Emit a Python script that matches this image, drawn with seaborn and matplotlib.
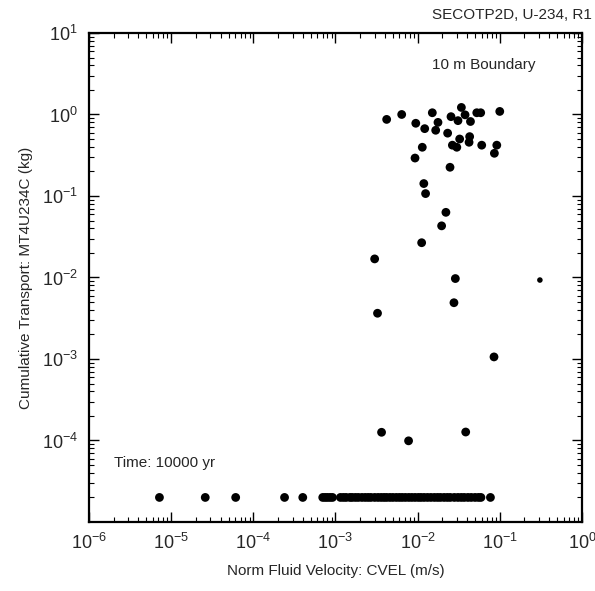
import numpy as np
import pandas as pd
import seaborn as sns
import matplotlib.pyplot as plt
from matplotlib.ticker import LogLocator, NullFormatter

sns.set_style("ticks")
plt.rcParams['font.family'] = ['Liberation Sans', 'DejaVu Sans']
plt.rcParams['mathtext.fontset'] = 'custom'
plt.rcParams['mathtext.rm'] = 'Liberation Sans'

# upper cluster and scattered points (velocity m/s, transport kg)
vel_upper = [4.2e-3, 6.4e-3, 0.0151, 9.5e-3, 0.0122, 0.0177, 0.0166, 0.0255, 0.031,
             0.0378, 0.0341, 0.044, 0.0525, 0.0586, 0.1, 0.0232, 0.0325, 0.043,
             0.0423, 0.0265, 0.030, 0.0603, 0.092, 0.086, 0.0114, 9.3e-3, 0.0248,
             0.0119, 0.0125, 0.0221, 0.0196, 0.0112, 0.0288, 3.0e-3, 0.0277,
             3.25e-3, 0.0851, 3.64e-3, 7.76e-3, 0.0385]
mass_upper = [0.87, 1.0, 1.05, 0.78, 0.67, 0.80, 0.64, 0.94, 0.84,
              0.99, 1.22, 0.82, 1.05, 1.05, 1.09, 0.59, 0.50, 0.535,
              0.456, 0.42, 0.396, 0.42, 0.42, 0.334, 0.396, 0.292, 0.225,
              0.142, 0.107, 0.063, 0.043, 0.0267, 9.7e-3, 0.0169, 4.9e-3,
              3.64e-3, 1.06e-3, 1.26e-4, 9.9e-5, 1.27e-4]

# realizations with zero release, plotted at the floor value
vel_floor = [7.2e-6, 2.6e-5, 6.1e-5, 2.4e-4, 4.0e-4,
             7.0e-4, 7.5e-4, 8.0e-4, 8.6e-4, 9.2e-4,
             1.15e-3, 1.25e-3, 1.35e-3, 1.5e-3, 1.6e-3, 1.75e-3, 1.9e-3, 2.1e-3,
             2.3e-3, 2.5e-3, 2.7e-3, 3.0e-3, 3.3e-3, 3.6e-3, 3.9e-3, 4.2e-3,
             4.6e-3, 5.0e-3, 5.5e-3, 6.0e-3, 6.5e-3, 7.1e-3, 7.8e-3, 8.5e-3,
             9.3e-3, 0.0102, 0.011, 0.012, 0.0132, 0.0145, 0.016, 0.0175, 0.019,
             0.021, 0.023, 0.025, 0.028, 0.031, 0.034, 0.037, 0.041, 0.045,
             0.05, 0.055, 0.059, 0.077]
mass_floor = 2.0e-5

# isolated point drawn with a smaller marker
vel_small = [0.308]
mass_small = [9.3e-3]

df = pd.DataFrame({
    'CVEL': vel_upper + vel_floor,
    'MT4U234C': mass_upper + [mass_floor] * len(vel_floor),
})
df_small = pd.DataFrame({'CVEL': vel_small, 'MT4U234C': mass_small})

fig = plt.figure(figsize=(5.95, 5.91), dpi=100)
ax = fig.add_axes([0.1496, 0.1168, 0.8284, 0.8274])

sns.scatterplot(data=df, x='CVEL', y='MT4U234C', ax=ax, color='black',
                s=40, marker='o', edgecolor='none', legend=False)
sns.scatterplot(data=df_small, x='CVEL', y='MT4U234C', ax=ax, color='black',
                s=16, marker='o', edgecolor='none', legend=False)

ax.set_xscale('log')
ax.set_yscale('log')
ax.set_xlim(1e-6, 1e0)
ax.set_ylim(1e-5, 1e1)

ax.xaxis.set_minor_locator(LogLocator(base=10, subs=np.arange(2, 10), numticks=20))
ax.yaxis.set_minor_locator(LogLocator(base=10, subs=np.arange(2, 10), numticks=20))
ax.xaxis.set_minor_formatter(NullFormatter())
ax.yaxis.set_minor_formatter(NullFormatter())

x_ticks = [1e-6, 1e-5, 1e-4, 1e-3, 1e-2, 1e-1, 1e0]
x_labels = [r'$10^{-6}$', r'$10^{-5}$', r'$10^{-4}$', r'$10^{-3}$',
            r'$10^{-2}$', r'$10^{-1}$', r'$10^{0}$']
ax.set_xticks(x_ticks)
ax.set_xticklabels(x_labels)

# y tick labels: 10^-5 is not labelled
ax.set_yticks([1e-4, 1e-3, 1e-2, 1e-1, 1e0, 1e1])
ax.set_yticklabels([r'$10^{-4}$', r'$10^{-3}$', r'$10^{-2}$', r'$10^{-1}$',
                    r'$10^{0}$', r'$10^{1}$'])

ax.tick_params(axis='both', which='major', direction='in', length=7, width=1.0,
               top=True, right=True, labelsize=13, pad=8, color='black')
ax.tick_params(axis='both', which='minor', direction='in', length=3.5, width=0.8,
               top=True, right=True, color='black')

for spine in ax.spines.values():
    spine.set_visible(True)
    spine.set_color('black')
    spine.set_linewidth(1.6)

ax.set_xlabel('Norm Fluid Velocity: CVEL (m/s)', fontsize=11, labelpad=8)
ax.set_ylabel('Cumulative Transport: MT4U234C (kg)', fontsize=11, labelpad=6)

ax.text(0.80, 0.935, '10 m Boundary', transform=ax.transAxes, fontsize=11,
        ha='center', va='center')
ax.text(0.05, 0.12, 'Time: 10000 yr', transform=ax.transAxes, fontsize=11,
        ha='left', va='center')
fig.text(0.995, 0.975, 'SECOTP2D, U-234, R1', fontsize=11, ha='right', va='center')

ax.grid(False)
fig.savefig('out.png', dpi=100)
